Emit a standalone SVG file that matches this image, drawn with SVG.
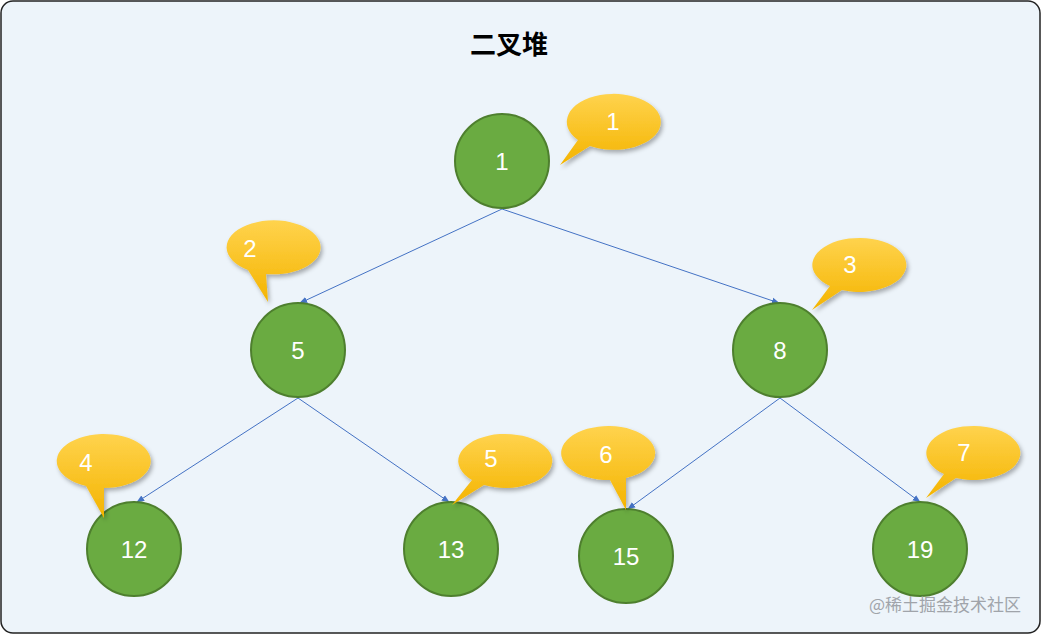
<svg xmlns="http://www.w3.org/2000/svg" width="1041" height="634" viewBox="0 0 1041 634">
<defs>
<linearGradient id="yg" x1="0" y1="0" x2="0" y2="1"><stop offset="0" stop-color="#ffd34d"/><stop offset="1" stop-color="#f4b400"/></linearGradient>
<filter id="sh" x="-20%" y="-20%" width="150%" height="150%"><feDropShadow dx="2" dy="3" stdDeviation="2" flood-color="#000" flood-opacity="0.3"/></filter>
<marker id="ar" viewBox="0 0 10 10" refX="9" refY="5" markerWidth="8" markerHeight="8" orient="auto"><path d="M0,1 L10,5 L0,9 z" fill="#4472c4"/></marker>
<style>
.n circle{fill:#6aab41;stroke:#4e7f2e;stroke-width:2}
.n text,.c text{font-family:"Liberation Sans",Arial,sans-serif;font-size:24px;fill:#fff;text-anchor:middle}
.c path{fill:url(#yg);filter:url(#sh)}
.e line{stroke:#4472c4;stroke-width:1;marker-end:url(#ar)}
</style>
</defs>
<rect x="1" y="1" width="1039" height="632" rx="12" fill="#edf4fa" stroke="#222" stroke-width="1.5"/>
<text x="509" y="54" font-family="'Noto Sans CJK SC',sans-serif" font-size="26" font-weight="bold" text-anchor="middle">二叉堆</text>
<g id="edges" class="e">
<line x1="502" y1="209" x2="300" y2="303"/>
<line x1="502" y1="209" x2="779" y2="303"/>
<line x1="298" y1="398" x2="137" y2="502"/>
<line x1="298" y1="398" x2="449" y2="502"/>
<line x1="780" y1="398" x2="628" y2="509"/>
<line x1="780" y1="398" x2="920" y2="502"/>
</g>
<g id="n1" class="n"><circle cx="502" cy="161" r="47"/><text x="502" y="170">1</text></g>
<g id="n5" class="n"><circle cx="298" cy="350" r="47"/><text x="298" y="359">5</text></g>
<g id="n8" class="n"><circle cx="780" cy="350" r="47"/><text x="780" y="359">8</text></g>
<g id="n12" class="n"><circle cx="134" cy="549" r="47"/><text x="134" y="558">12</text></g>
<g id="n13" class="n"><circle cx="451" cy="549" r="47"/><text x="451" y="558">13</text></g>
<g id="n15" class="n"><circle cx="626" cy="556" r="47"/><text x="626" y="565">15</text></g>
<g id="n19" class="n"><circle cx="920" cy="549" r="47"/><text x="920" y="558">19</text></g>
<g id="c1" class="c"><path d="M590,146 L560,165 L578,140 A47,28 0 1 1 590,146 Z"/><text x="613" y="130">1</text></g>
<g id="c2" class="c"><path d="M248,270 L268,302 L266,274 A47,27 0 1 0 248,270 Z"/><text x="250" y="257">2</text></g>
<g id="c3" class="c"><path d="M830,286 L812,310 L842,290 A47,27 0 1 0 830,286 Z"/><text x="850" y="273">3</text></g>
<g id="c4" class="c"><path d="M86,486 L104,518 L104,488 A47,27 0 1 0 86,486 Z"/><text x="86" y="471">4</text></g>
<g id="c5" class="c"><path d="M472,480 L452,505 L484,485 A47,27 0 1 0 472,480 Z"/><text x="491" y="467">5</text></g>
<g id="c6" class="c"><path d="M610,480 L626,510 L626,478 A47,27 0 1 0 610,480 Z"/><text x="606" y="463">6</text></g>
<g id="c7" class="c"><path d="M944,474 L926,498 L956,478 A47,27 0 1 0 944,474 Z"/><text x="964" y="461">7</text></g>
<text x="1021" y="611" font-family="'Noto Sans CJK SC',sans-serif" font-size="17" fill="#a0a4aa" text-anchor="end">@稀土掘金技术社区</text>
</svg>
